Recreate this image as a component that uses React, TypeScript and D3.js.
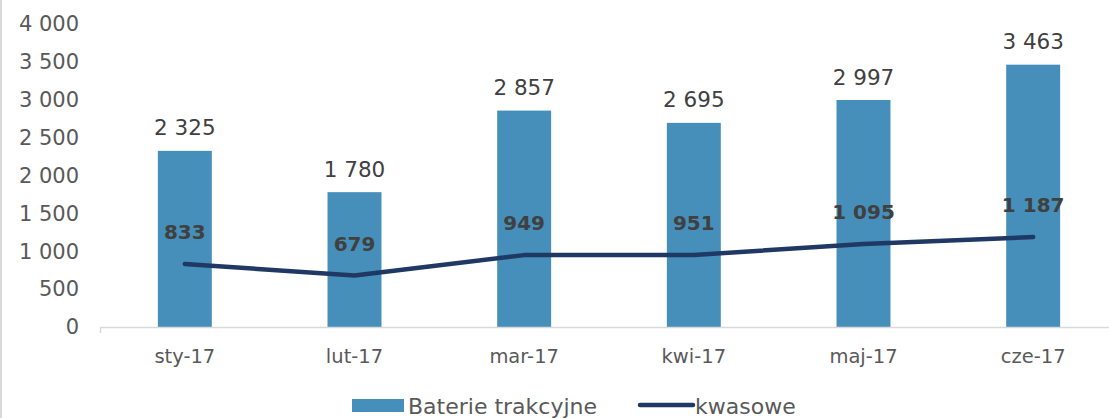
import React from "react";
import * as d3 from "d3";

const categories = ["sty-17", "lut-17", "mar-17", "kwi-17", "maj-17", "cze-17"];
const baterie = [2325, 1780, 2857, 2695, 2997, 3463];
const kwasowe = [833, 679, 949, 951, 1095, 1187];
const yTicks = [0, 500, 1000, 1500, 2000, 2500, 3000, 3500, 4000];

const W = 1109;
const H = 418;
const fmt = (v: number) => d3.format(",")(v).replace(/,/g, " ");

export default function App() {
  const x = d3.scaleBand<string>().domain(categories).range([100, 1118]).paddingInner(0.682).paddingOuter(0.341);
  const y = d3.scaleLinear().domain([0, 4000]).range([327, 24]);
  const cx = (c: string) => (x(c) as number) + x.bandwidth() / 2;
  const line = d3.line<number>().x((_, i) => cx(categories[i])).y((d) => y(d));
  const font = "'DejaVu Sans', sans-serif";
  return (
    <svg width={W} height={H} style={{ position: "absolute", left: 0, top: 0, fontFamily: font }}>
      <rect x={0} y={0} width={W} height={H} fill="#fff" />
      <line x1={1} x2={1} y1={0} y2={H} stroke="#d9d9d9" strokeWidth={2} />
      {yTicks.map((t) => (
        <text key={t} x={79} y={y(t)} dy="0.35em" textAnchor="end" fontSize={21} fill="#595959">
          {fmt(t)}
        </text>
      ))}
      {categories.map((c, i) => (
        <g key={c}>
          <rect x={x(c)} y={y(baterie[i])} width={x.bandwidth()} height={y(0) - y(baterie[i])} fill="#458fba" />
          <text x={cx(c)} y={y(baterie[i]) - 23} dy="0.35em" textAnchor="middle" fontSize={21.5} fill="#404040">
            {fmt(baterie[i])}
          </text>
          <text x={cx(c)} y={356} dy="0.35em" textAnchor="middle" fontSize={19.5} fill="#595959">
            {c}
          </text>
        </g>
      ))}
      <line x1={100} x2={W} y1={327.5} y2={327.5} stroke="#d9d9d9" strokeWidth={1.5} />
      <line x1={100.5} x2={100.5} y1={327} y2={333} stroke="#d9d9d9" strokeWidth={1.5} />
      <path d={line(kwasowe) || ""} fill="none" stroke="#1f3864" strokeWidth={4.5} strokeLinecap="round" strokeLinejoin="round" />
      {categories.map((c, i) => (
        <text key={c} x={cx(c)} y={y(kwasowe[i]) - 32} dy="0.35em" textAnchor="middle" fontSize={20} fontWeight="bold" fill="#404040">
          {fmt(kwasowe[i])}
        </text>
      ))}
      <rect x={352} y={399} width={52} height={13} fill="#458fba" />
      <text x={408} y={406} dy="0.35em" fontSize={22} fill="#595959">Baterie trakcyjne</text>
      <line x1={640} x2={693} y1={405} y2={405} stroke="#1f3864" strokeWidth={4.5} strokeLinecap="round" />
      <text x={695} y={406} dy="0.35em" fontSize={22} fill="#595959">kwasowe</text>
    </svg>
  );
}
